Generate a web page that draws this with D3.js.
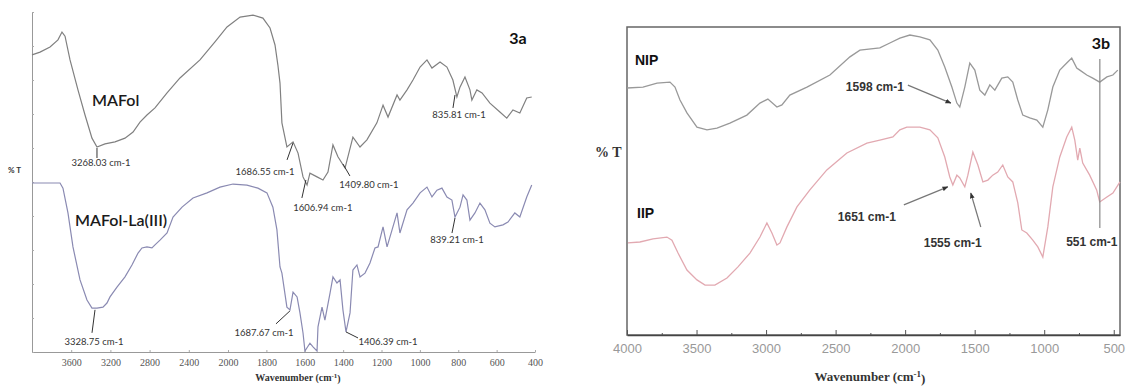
<!DOCTYPE html>
<html>
<head>
<meta charset="utf-8">
<script src="https://cdn.jsdelivr.net/npm/d3@7"></script>
<style>
  body { margin: 0; background: #fff; }
  svg { display: block; }
</style>
</head>
<body>
<svg id="chart" width="1126" height="389"></svg>
<script>
// ---- panel 3a : MAFol / MAFol-La(III) ----
const mafolWave = [4000,3918,3816,3735,3694,3663,3612,3531,3459,3388,3337,3255,3153,3051,2969,2898,2827,2745,2622,2490,2286,2133,2010,1937,1870,1818,1781,1755,1740,1729,1719,1693,1661,1635,1609,1588,1573,1536,1505,1479,1453,1427,1390,1349,1312,1276,1224,1192,1166,1119,1104,1067,1036,999,963,937,895,859,828,807,791,765,739,729,703,676,635,583,547,515,479,443,417];
const mafolT = [87.4,88.2,89.7,91.8,94.1,92.9,85.9,77.1,69.7,62.9,60.3,61.2,61.8,62.9,64.7,67.6,69.7,71.8,76.2,80.6,85.9,91.2,95.6,98.5,99.1,98.2,95.3,90.3,84.4,79.1,67.4,60.3,61.8,58.5,51.5,49.1,52.6,51.5,50.6,52.9,60.9,57.4,54.1,63.2,60.3,62.4,67.4,72.6,69.1,75.6,74.1,77.1,80.0,83.8,85.9,83.5,85.3,83.8,80.0,75.0,77.9,80.9,77.1,74.1,77.1,76.2,73.2,70.6,68.8,71.2,70.3,74.7,75.0];

const laWave = [4000,3714,3684,3633,3582,3510,3439,3388,3337,3276,3235,3204,3133,3051,2980,2918,2878,2827,2776,2745,2694,2622,2561,2469,2357,2214,2082,1974,1901,1844,1797,1766,1745,1729,1719,1693,1677,1661,1640,1625,1609,1599,1573,1557,1536,1531,1510,1495,1468,1453,1432,1416,1401,1385,1364,1349,1328,1312,1286,1260,1234,1218,1192,1171,1145,1119,1104,1067,1036,999,963,937,911,885,859,833,817,791,775,755,739,713,687,661,635,609,567,541,505,479,443,417];
const laT = [49.7,49.7,48.2,40.9,30.9,21.2,15.3,12.9,12.9,13.2,14.4,16.2,19.1,22.1,25.6,29.1,30.6,30.9,30.6,31.5,32.9,35.0,39.7,42.6,45.3,46.8,48.5,49.4,49.1,48.2,46.8,42.6,35.9,25.0,23.2,13.2,12.4,17.6,16.2,11.5,5.6,0.3,2.6,1.5,0.3,7.4,13.2,9.4,17.4,22.1,20.3,21.2,12.4,5.9,11.5,24.1,25.6,22.1,23.2,26.2,30.6,30.9,36.8,30.9,35.9,40.9,35.0,41.8,43.8,46.8,48.5,45.6,47.6,48.2,45.6,44.7,39.7,42.6,46.2,44.7,38.8,40.9,43.8,41.8,37.9,36.8,37.4,38.2,40.9,39.7,45.6,49.1];

const ticksA = [3600,3200,2800,2400,2000,1800,1600,1400,1200,1000,800,600,400];

const peaksA = ["3268.03 cm-1","1686.55 cm-1","1409.80 cm-1","835.81 cm-1","1606.94 cm-1","3328.75 cm-1","1687.67 cm-1","1406.39 cm-1","839.21 cm-1"];
const peaksAWave = [3337,1661,1401,817,1594,3357,1677,1385,817];
const peaksAT = [60.0,61.5,55.3,75.6,50.6,12.4,12.1,5.9,39.4];

// ---- panel 3b : NIP / IIP ----
const nipWave = [4000,3885,3784,3691,3655,3619,3569,3497,3425,3353,3260,3138,3044,2987,2922,2886,2829,2706,2541,2397,2325,2182,2110,2038,1966,1894,1822,1765,1715,1664,1628,1607,1571,1535,1499,1463,1427,1391,1355,1305,1262,1226,1190,1154,1104,1053,1010,974,938,888,838,802,766,744,694,651,601,549,506,471];
const nipT = [80.2,80.5,81.8,82.1,80.5,76.3,72.1,67.5,66.6,67.2,68.8,71.4,75.3,76.6,74.0,74.7,77.9,80.5,84.4,90.3,92.5,93.2,94.8,96.4,97.4,96.8,95.8,92.5,87.0,80.5,75.3,74.0,80.5,88.3,86.0,79.5,77.9,81.2,79.5,83.4,83.8,82.1,76.3,71.4,70.5,69.8,67.5,73.1,80.5,86.0,88.3,89.9,86.7,86.0,84.4,83.4,82.1,83.8,84.4,86.0];

const iipWave = [3993,3907,3813,3713,3677,3633,3569,3497,3439,3368,3281,3202,3116,3044,2994,2958,2922,2900,2850,2778,2685,2563,2419,2275,2182,2088,2038,1988,1894,1822,1765,1715,1679,1657,1628,1607,1571,1549,1513,1477,1441,1405,1370,1334,1298,1262,1226,1190,1161,1125,1082,1046,1010,974,938,888,838,802,780,759,744,723,673,623,601,549,506,455];
const iipT = [29.9,30.2,31.2,31.8,30.8,26.6,21.1,17.9,16.2,16.2,18.5,22.1,26.6,31.8,36.4,33.1,29.2,29.9,35.1,41.6,47.1,53.6,59.1,62.3,63.3,64.3,66.6,67.5,67.5,66.6,64.0,57.8,51.3,48.7,51.9,51.0,48.1,51.9,59.4,55.2,49.7,50.3,51.9,52.9,55.2,51.3,49.7,42.9,34.1,33.1,30.8,28.6,25.3,35.1,48.1,57.8,64.3,67.5,63.3,56.8,60.7,55.8,51.9,47.1,43.2,44.8,46.1,49.7];

const ticksB = [4000,3500,3000,2500,2000,1500,1000,500];
const minorB = [3750,3250,2750,2250,1750,1250,750];

const peaksB = ["1598 cm-1","1651 cm-1","1555 cm-1"];
const peaksBWave = [1671,1693,1528];
const peaksBT = [75.3,48.1,46.1];

const markB = "551 cm-1";
const markBWave = 600;
const markBT = [89.6,34.7];

const svg = d3.select('#chart');
const zip = (w, t) => w.map((d, i) => ({ w: d, t: t[i] }));

// ================= 3a =================
const xA = d3.scaleLinear().domain([4000, 2000, 400]).range([32, 228, 535]);
const yA = d3.scaleLinear().domain([0, 100]).range([352, 12]);

const gA = svg.append('g');

// axes
gA.append('g')
  .attr('transform', 'translate(0,352)')
  .call(d3.axisBottom(xA).tickValues(ticksA).tickFormat(d3.format('d')).tickSizeInner(-2).tickSizeOuter(0).tickPadding(7))
  .call(g => g.select('.domain').attr('stroke', '#999'))
  .call(g => g.selectAll('.tick line').attr('stroke', '#aaa'))
  .call(g => g.selectAll('text').attr('fill', '#555')
      .style('font-family', '"Liberation Serif", serif').style('font-size', '10px'));

gA.append('g')
  .attr('transform', 'translate(32,0)')
  .call(d3.axisRight(yA).ticks(13).tickSizeInner(2).tickSizeOuter(0).tickFormat(''))
  .call(g => g.select('.domain').attr('stroke', '#999'))
  .call(g => g.selectAll('.tick line').attr('stroke', '#aaa'));

const lineA = d3.line().x(d => xA(d.w)).y(d => yA(d.t));

gA.append('path').datum(zip(mafolWave, mafolT))
  .attr('d', lineA).attr('fill', 'none').attr('stroke', '#808080').attr('stroke-width', 1.2);
gA.append('path').datum(zip(laWave, laT))
  .attr('d', lineA).attr('fill', 'none').attr('stroke', '#8a8ab2').attr('stroke-width', 1.2);

// peak labels: [line end dx, dy, text dx, dy]
const offA = [[0,10,4,15],[-6,17,-28,29],[7,12,26,21],[-2,13,4,20],[-4,18,17,28],[-3,23,-1,32],[-14,13,-26,22],[12,6,42,10],[-3,15,2,22]];
peaksA.forEach((lab, i) => {
  const px = xA(peaksAWave[i]), py = yA(peaksAT[i]), o = offA[i];
  gA.append('line').attr('x1', px).attr('y1', py).attr('x2', px + o[0]).attr('y2', py + o[1])
    .attr('stroke', '#333').attr('stroke-width', 1);
  gA.append('text').attr('x', px + o[2]).attr('y', py + o[3]).attr('dy', '0.35em')
    .attr('text-anchor', 'middle').attr('fill', '#333')
    .style('font-family', 'Lato, sans-serif').style('font-size', '9.5px').text(lab);
});

gA.append('text').attr('x', 92).attr('y', 100).attr('dy', '0.35em').attr('fill', '#1a1a1a')
  .style('font-family', 'Lato, sans-serif').style('font-size', '16px').style('font-weight', '600').text('MAFol');
gA.append('text').attr('x', 75).attr('y', 220).attr('dy', '0.35em').attr('fill', '#1a1a1a')
  .style('font-family', 'Lato, sans-serif').style('font-size', '16px').style('font-weight', '600').text('MAFol-La(III)');
gA.append('text').attr('x', 518).attr('y', 38).attr('dy', '0.35em').attr('text-anchor', 'middle').attr('fill', '#111')
  .style('font-family', 'Lato, sans-serif').style('font-weight', 'bold').style('font-size', '16px').text('3a');
gA.append('text').attr('x', 8).attr('y', 170).attr('dy', '0.35em').attr('fill', '#333')
  .style('font-family', 'Lato, sans-serif').style('font-weight', 'bold').style('font-size', '8px').text('% T');

const titleA = gA.append('text').attr('x', 298).attr('y', 381).attr('text-anchor', 'middle').attr('fill', '#333')
  .style('font-family', '"Liberation Serif", serif').style('font-weight', 'bold').style('font-size', '10px');
titleA.append('tspan').text('Wavenumber (cm');
titleA.append('tspan').attr('dy', '-0.4em').style('font-size', '7px').text('-1');
titleA.append('tspan').attr('dy', '0.4em').text(')');

// ================= 3b =================
const xB = d3.scaleLinear().domain([4000, 455]).range([627, 1120]);
const yB = d3.scaleLinear().domain([0, 100]).range([335, 27]);

const gB = svg.append('g');

gB.append('rect').attr('x', 627).attr('y', 27).attr('width', 1120 - 627).attr('height', 335 - 27)
  .attr('fill', 'none').attr('stroke', '#666').attr('stroke-width', 1.5);

gB.append('g')
  .attr('transform', 'translate(0,335)')
  .call(d3.axisBottom(xB).tickValues(ticksB).tickFormat(d3.format('d')).tickSizeInner(-5).tickSizeOuter(0).tickPadding(9))
  .call(g => g.select('.domain').attr('stroke', '#444').attr('stroke-width', 1.5))
  .call(g => g.selectAll('.tick line').attr('stroke', '#555'))
  .call(g => g.selectAll('text').attr('fill', '#999')
      .style('font-family', '"Liberation Sans", Arial, sans-serif').style('font-size', '13px'));

gB.append('g')
  .attr('transform', 'translate(0,335)')
  .call(d3.axisBottom(xB).tickValues(minorB).tickSizeInner(-2).tickSizeOuter(0).tickFormat(''))
  .call(g => g.select('.domain').remove())
  .call(g => g.selectAll('.tick line').attr('stroke', '#555'));

const lineB = d3.line().x(d => xB(d.w)).y(d => yB(d.t));

gB.append('path').datum(zip(nipWave, nipT))
  .attr('d', lineB).attr('fill', 'none').attr('stroke', '#999').attr('stroke-width', 1.3);
gB.append('path').datum(zip(iipWave, iipT))
  .attr('d', lineB).attr('fill', 'none').attr('stroke', '#e2a9b1').attr('stroke-width', 1.3);

svg.append('defs').append('marker')
  .attr('id', 'arr').attr('viewBox', '0 0 10 10').attr('refX', 9).attr('refY', 5)
  .attr('markerWidth', 5).attr('markerHeight', 5).attr('orient', 'auto')
  .append('path').attr('d', 'M0,1 L10,5 L0,9 Z').attr('fill', '#333');

// arrow tail dx, dy and text dx, dy (relative to arrow tip)
const offB = [[-43,-18,-76,-16],[-44,18,-81,30],[10,34,-18,50]];
peaksB.forEach((lab, i) => {
  const px = xB(peaksBWave[i]), py = yB(peaksBT[i]), o = offB[i];
  gB.append('line').attr('x1', px + o[0]).attr('y1', py + o[1]).attr('x2', px).attr('y2', py)
    .attr('stroke', '#777').attr('stroke-width', 1.2).attr('marker-end', 'url(#arr)');
  gB.append('text').attr('x', px + o[2]).attr('y', py + o[3]).attr('dy', '0.35em')
    .attr('text-anchor', 'middle').attr('fill', '#333')
    .style('font-family', '"Liberation Sans Narrow", "Liberation Sans", sans-serif')
    .style('font-weight', 'bold').style('font-size', '12px').text(lab);
});

gB.append('line').attr('x1', xB(markBWave)).attr('x2', xB(markBWave))
  .attr('y1', yB(markBT[0])).attr('y2', yB(markBT[1])).attr('stroke', '#888').attr('stroke-width', 1.2);
gB.append('text').attr('x', xB(markBWave) - 8).attr('y', yB(markBT[1]) + 14).attr('dy', '0.35em')
  .attr('text-anchor', 'middle').attr('fill', '#333')
  .style('font-family', '"Liberation Sans Narrow", "Liberation Sans", sans-serif')
  .style('font-weight', 'bold').style('font-size', '12px').text(markB);

gB.append('text').attr('x', 635).attr('y', 60).attr('dy', '0.35em').attr('fill', '#111')
  .style('font-family', '"Liberation Sans", Arial, sans-serif').style('font-weight', 'bold').style('font-size', '14px').text('NIP');
gB.append('text').attr('x', 637).attr('y', 213).attr('dy', '0.35em').attr('fill', '#111')
  .style('font-family', '"Liberation Sans", Arial, sans-serif').style('font-weight', 'bold').style('font-size', '14px').text('IIP');
gB.append('text').attr('x', 1101).attr('y', 43).attr('dy', '0.35em').attr('text-anchor', 'middle').attr('fill', '#111')
  .style('font-family', 'Lato, sans-serif').style('font-weight', 'bold').style('font-size', '16px').text('3b');
gB.append('text').attr('x', 595).attr('y', 152).attr('dy', '0.35em').attr('fill', '#333')
  .style('font-family', '"Liberation Serif", serif').style('font-weight', 'bold').style('font-size', '14px').text('% T');

const titleB = gB.append('text').attr('x', 870).attr('y', 381).attr('text-anchor', 'middle').attr('fill', '#333')
  .style('font-family', '"Liberation Serif", serif').style('font-weight', 'bold').style('font-size', '13px');
titleB.append('tspan').text('Wavenumber (cm');
titleB.append('tspan').attr('dy', '-0.45em').style('font-size', '9px').text('-1');
titleB.append('tspan').attr('dy', '0.45em').text(')');
</script>
</body>
</html>
